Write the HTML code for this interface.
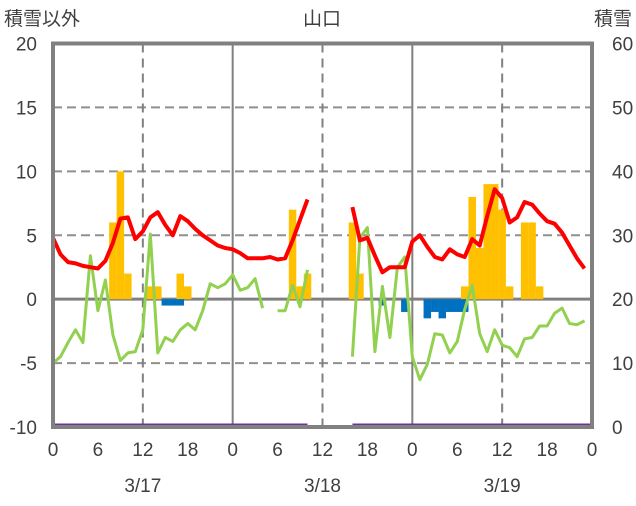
<!DOCTYPE html>
<html><head><meta charset="utf-8"><style>
body{margin:0;background:#fff;}
svg text{font-family:"Liberation Sans","Noto Sans CJK JP",sans-serif;fill:#404040;}
</style></head><body>
<svg id="chart" width="636" height="501" viewBox="0 0 636 501" xmlns="http://www.w3.org/2000/svg">
<g id="grid"></g>
<g id="bars"></g>
<g id="lines"></g>
<g id="frame"></g>
<g id="labels"></g>
</svg>
<script>
const hours = Array.from({length:72},(_,i)=>i);
const redVals = [4.8,3.5,2.9,2.8,2.6,2.5,2.4,3.0,4.4,6.3,6.4,4.7,5.3,6.4,6.8,5.8,5.0,6.5,6.1,5.5,5.0,4.6,4.2,4.0,3.9,3.6,3.2,3.2,3.2,3.3,3.1,3.2,4.6,6.2,7.8,null,null,null,null,null,7.2,4.6,4.8,3.4,2.1,2.5,2.5,2.5,4.5,5.0,4.1,3.3,3.1,3.9,3.5,3.3,4.7,4.2,6.5,8.6,7.9,6.0,6.4,7.6,7.4,6.7,6.1,5.9,5.2,4.2,3.2,2.4];
const greenVals = [-5.0,-4.5,-3.4,-2.4,-3.4,3.4,-0.9,1.5,-2.8,-4.8,-4.2,-4.1,-2.4,5.1,-4.2,-3.0,-3.3,-2.4,-1.9,-2.4,-0.9,1.2,0.9,1.2,1.9,0.7,0.9,1.6,-0.7,null,-0.9,-0.9,1.1,-0.6,2.3,null,null,null,null,null,-4.5,4.8,5.6,-4.1,1.0,-3.0,2.5,3.3,-4.5,-6.3,-5.1,-2.7,-2.8,-4.2,-3.3,-0.8,1.1,-2.7,-4.1,-2.4,-3.6,-3.8,-4.5,-3.1,-3.0,-2.1,-2.1,-1.1,-0.7,-1.9,-2.0,-1.7];
const yellowHours = [8,9,10,13,14,17,18,32,33,34,40,41,55,56,57,58,59,60,61,63,64,65];
const yellowVals  = [6,10,2,1,1,2,1,7,1,2,6,2,1,8,4,9,9,7,1,6,6,1];
const blueHours = [15,16,17,44,47,50,51,52,53,54,55];
const blueVals  = [-0.5,-0.5,-0.5,-0.5,-1,-1.5,-1,-1.5,-1,-1,-1];
const snowDepth = [[0,34],[40,72]];
const snowVals = [0,0];
const xTickLabels = ["0","6","12","18","0","6","12","18","0","6","12","18","0"];
const dateLabels = ["3/17","3/18","3/19"];
const leftTicks = [20,15,10,5,0,-5,-10];
const rightTicks = [60,50,40,30,20,10,0];

const X0=53,X1=592,Y0=43.5,Y1=427;
const x = h => X0 + (X1-X0)*h/72;
const yL = v => Y0 + (20-v)*(Y1-Y0)/30;
const yR = v => Y0 + (60-v)*(Y1-Y0)/60;
const NS="http://www.w3.org/2000/svg";
function mk(tag,parent,attrs){const e=document.createElementNS(NS,tag);for(const k in attrs)e.setAttribute(k,attrs[k]);document.getElementById(parent).appendChild(e);return e;}

// horizontal gridlines
[15,10,5,-5].forEach(v=>{
  const e=mk('line','grid',{x1:X0,x2:X1,y1:yL(v),y2:yL(v),stroke:'#909090','stroke-width':2,'stroke-dasharray':'9,5'});
  
  
});
// vertical gridlines
[12,24,36,48,60].forEach(h=>{
  const solid = h%24===0;
  const e=mk('line','grid',{x1:x(h),x2:x(h),y1:Y0,y2:Y1,stroke:'#808080','stroke-width':2,'stroke-dasharray':solid?'none':'9,6'});
  
  
});
// bars
const bw=(X1-X0)/72;
yellowHours.forEach((h,i)=>{
  const v=yellowVals[i];
  const e=mk('rect','bars',{x:x(h)-bw/2,y:yL(v),width:bw,height:yL(0)-yL(v),fill:'#ffc000'});
  
  
});
blueHours.forEach((h,i)=>{
  const v=blueVals[i];
  const e=mk('rect','bars',{x:x(h)-bw/2,y:yL(0),width:bw,height:yL(v)-yL(0),fill:'#0070c0'});
  
  
});
// zero line
const z=mk('line','grid',{x1:X0,x2:X1,y1:yL(0),y2:yL(0),stroke:'#808080','stroke-width':3});


// lines
function pathFrom(vals){let d='',pen=false;vals.forEach((v,h)=>{if(v===null){pen=false;return;}d+=(pen?'L':'M')+x(h).toFixed(1)+','+yL(v).toFixed(1);pen=true;});return d;}
const g=mk('path','lines',{d:pathFrom(greenVals),fill:'none',stroke:'#92d050','stroke-width':3,'stroke-linejoin':'round'});


const r=mk('path','lines',{d:pathFrom(redVals),fill:'none',stroke:'#ff0000','stroke-width':4,'stroke-linejoin':'round'});


// frame
const f=mk('rect','frame',{x:X0,y:Y0,width:X1-X0,height:Y1-Y0,fill:'none',stroke:'#808080','stroke-width':4});


snowDepth.forEach((s,i)=>{
  const e=mk('line','lines',{x1:x(s[0]),x2:x(s[1]),y1:yR(snowVals[i])-2,y2:yR(snowVals[i])-2,stroke:'#7030a0','stroke-width':3});
  
  
});
// labels
function txt(s,xx,yy,anchor,size,name){const e=mk('text','labels',{x:xx,y:yy,'text-anchor':anchor,'font-size':size});e.textContent=s;
  
  return e;}
leftTicks.forEach(v=>txt(String(v),37,yL(v)+7,'end',19,'left-tick-label'));
rightTicks.forEach(v=>txt(String(v),612,yR(v)+7,'start',19,'right-tick-label'));
xTickLabels.forEach((s,i)=>txt(s,x(i*6),456,'middle',19,'x-tick-label'));
dateLabels.forEach((s,i)=>txt(s,x(12+24*i),492,'middle',19,'date-label'));
txt('積雪以外',4,25,'start',19,'left-axis-title');
txt('山口',322,25,'middle',19,'chart-title');
txt('積雪',632,25,'end',19,'right-axis-title');
</script>
</body></html>
